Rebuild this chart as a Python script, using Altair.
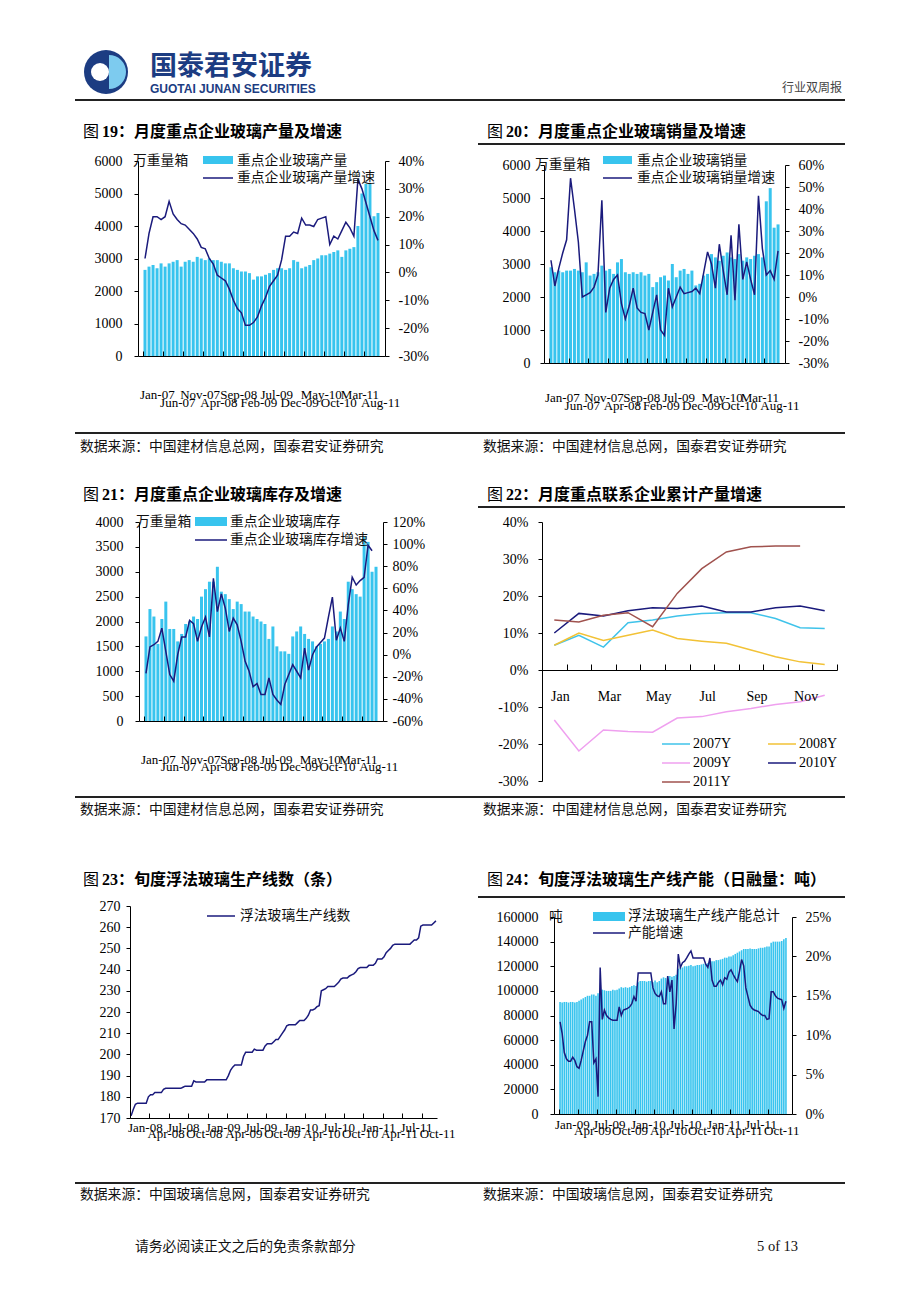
import altair as alt
import pandas as pd

# ------------------------------------------------------------------ data
# Fig 19: monthly production (万重量箱) and growth (%), Jan-07 .. Nov-11
prod_volume = [2650, 2750, 2800, 2700, 2850, 2750, 2850, 2900, 2950, 2750, 2900, 2950,
               2900, 3050, 3000, 2950, 3000, 2950, 2950, 2900, 2850, 2850, 2700, 2650,
               2600, 2600, 2550, 2350, 2450, 2450, 2500, 2550, 2650, 2700, 2700, 2650,
               2700, 2950, 2900, 2700, 2750, 2800, 2950, 3000, 3100, 3100, 3150, 3200,
               3250, 3050, 3250, 3300, 3350, 4000, 5000, 5300, 5300, 4300, 4400]
prod_growth = [5, 14, 20, 20, 19, 20, 25.5, 21, 19, 17.5, 17, 15.5,
               14, 12, 9, 8.5, 5, 3, -1, -2, -3, -6, -10, -13,
               -14.5, -19, -19, -18, -16, -12, -9, -5, -3, -1, 4.5, 13,
               13, 14.5, 14, 19.5, 17, 17, 16.5, 19, 19.5, 20, 10, 13,
               12, 15, 18, 16, 13, 33.5, 30, 25, 20, 15, 11.5]

# Fig 20: monthly sales and growth
sales_volume = [2900, 2750, 2800, 2750, 2800, 2800, 2850, 2800, 2750, 3050, 2650, 2700,
                2750, 2950, 2800, 2850, 2700, 3050, 3150, 2750, 2700, 2750, 2700, 2750,
                2650, 2700, 2300, 2450, 2600, 2650, 2500, 3000, 2600, 2800, 2850, 2700,
                2800, 2350, 2400, 2650, 2700, 3300, 3200, 3100, 3250, 3350, 3200, 3150,
                3300, 3100, 3200, 3150, 3250, 3300, 3200, 4900, 5300, 4100, 4200]
sales_growth = [16.7, 5, 13, 20, 26, 54, 40, 25, 0, 1, 2, 4.5,
                10, 44, -7, 4, 8, 10, -3, -10, -4, 4, -5, -7,
                -7.5, -15, -7, 1, -15, -17.5, 4, -4.5, 0, 4.5, 1.5, 2,
                2.5, 4, 1.5, 11, 20.5, 15, 4, 24, 12, 1, 28, -1.5,
                33, 8, 16, 8, 1, 46, 22, 10, 12, 8, 21]

# Fig 21: monthly inventory and growth
inv_volume = [1700, 2250, 2100, 1550, 2050, 2400, 1850, 1850, 1600, 1750, 1950, 2000,
              2100, 2050, 2500, 2650, 2800, 2800, 3100, 2600, 2550, 2450, 2250, 2400,
              2350, 2200, 2200, 2100, 2050, 2000, 1950, 1650, 1900, 1500, 1400, 1400,
              1350, 1700, 1800, 1900, 1750, 1650, 1600, 1500, 1550, 1600, 1650, 1900,
              1800, 2200, 2050, 2800, 2650, 2550, 2500, 3700, 3600, 3000, 3100]
inv_growth = [-17, 7, 9, 12, 24, 3, -18, -24, 0, 16, 16, 31,
              28, 12, 25, 34, 16, 69, 39, 55, 42, 21, 33, 27,
              12, -6, -15, -29, -26, -36, -36, -21, -36, -41, -45, -27,
              -18, -9, -15, -21, 6, -14, 0, 7, 11, 15, 34, 52,
              13, 24, 12, 45, 70, 63, 67, 70, 99, 94]

month_ticks = [0, 5, 10, 15, 20, 25, 30, 35, 40, 45, 50, 55]
month_labels = ["Jan-07", "Jun-07", "Nov-07", "Apr-08", "Sep-08", "Feb-09",
                "Jul-09", "Dec-09", "May-10", "Oct-10", "Mar-11", "Aug-11"]

# Fig 22: cumulative production growth by year (%)
years = ["2007Y", "2008Y", "2009Y", "2010Y", "2011Y"]
year_colors = ["#3FC3EA", "#F2C236", "#EFA0EF", "#1A1A7C", "#A0524E"]
cum_2007 = [6.7, 9.4, 6.2, 12.8, 13.5, 14.6, 15.3, 15.5, 15.5, 13.9, 11.4, 11.2]
cum_2008 = [6.7, 10.0, 8.0, 9.4, 10.8, 8.5, 7.8, 7.2, 5.4, 3.6, 2.2, 1.5]
cum_2009 = [-13.5, -21.9, -16.2, -16.6, -16.8, -13.0, -12.6, -11.3, -10.4, -9.3, -8.6, -6.8]
cum_2010 = [10.0, 15.3, 14.6, 16.0, 16.8, 16.6, 17.3, 15.7, 15.7, 16.8, 17.3, 16.0]
cum_2011 = [13.5, 13.0, 14.8, 15.5, 11.7, 20.7, 27.4, 31.9, 33.3, 33.5, 33.5]
cum_label_pos = [0.5, 2.5, 4.5, 6.5, 8.5, 10.5]
cum_labels = ["Jan", "Mar", "May", "Jul", "Sep", "Nov"]

# Fig 23: float glass production lines, by 10-day period, Jan-08 ..
lines_count = [171, 174, 176.5, 177, 177, 177, 177, 177, 180, 181,
               181, 182, 182, 182, 182, 183.5, 184, 184, 184, 184,
               184, 184, 184, 184, 184.5, 185, 185, 185, 185, 187.5,
               187, 187, 187, 187, 187, 188, 188, 188, 188, 188,
               188, 188, 188, 188, 188, 190, 192.5, 194, 195, 195,
               195, 195, 199, 201, 201, 201, 201, 202.5, 202, 202,
               202, 202, 204, 205, 205, 205, 206, 207, 207, 208.5,
               210, 211.5, 213.5, 214, 214, 214, 214, 215, 216, 216,
               216, 217, 218.5, 221, 221, 221.5, 222.5, 223, 230, 230.5,
               231, 232, 232, 232, 232, 233, 234, 235.5, 236, 236,
               236, 237, 237.5, 238, 239, 240.5, 241, 241, 241, 241,
               242, 242, 242, 243, 245, 245, 245, 246, 248, 249,
               250, 251.5, 252, 252, 252, 252, 252, 252, 252, 252,
               253, 254, 254, 255, 260.5, 261, 261, 261, 261, 261,
               262, 263]
d08_ticks = [0, 9, 18, 27, 36, 45, 54, 63, 72, 81, 90, 99, 108, 117, 126, 135]
d08_labels = ["Jan-08", "Apr-08", "Jul-08", "Oct-08", "Jan-09", "Apr-09", "Jul-09", "Oct-09",
              "Jan-10", "Apr-10", "Jul-10", "Oct-10", "Jan-11", "Apr-11", "Jul-11", "Oct-11"]

# Fig 24: capacity (吨/日) and growth (%), by 10-day period, Jan-09 ..
capacity = [91000, 90500, 91000, 91000, 90500, 91000, 91000, 90500, 91000,
            92000, 93000, 94000, 95000, 96000, 96000, 97000, 97000, 96000,
            98000, 100000, 101000, 100500, 100000, 100000, 100000, 101000, 100500,
            101000, 102000, 103000, 102500, 103000, 102500, 103000, 104000, 104500,
            104000, 107000, 108000, 108000, 108000, 107500, 108000, 108000, 107000,
            108500, 107000, 108000, 110000, 111000, 110500, 112000, 112000, 111500,
            112000, 113000, 118000, 119000, 119000, 120000, 120000, 120500, 121000,
            120000, 120500, 121000, 121000, 121500, 122000, 122000, 122500, 123000,
            124000, 124000, 125000, 125000, 125500, 126000, 127000, 127000, 128000,
            128000, 129000, 130000, 131000, 132000, 133000, 134000, 134000, 134000,
            134500, 134000, 134000, 134000, 134500, 135000, 135000, 135500, 136000,
            136000, 139000, 140000, 140000, 140000, 140000, 140500, 142000, 143000]
capacity_growth = [11.7, 10.2, 7.8, 7, 6.7, 6.7, 7.2, 6.8, 6,
                   5.8, 6.8, 8, 9.2, 10, 11.7, 11.7, 6.5, 7,
                   2.2, 18.6, 12, 13.2, 12.5, 12.2, 12, 11.9, 11.9,
                   11.9, 13.6, 12.5, 13.2, 13.3, 13.4, 13.6, 14, 14.9,
                   14.3, 17.9, 17.9, 17.9, 17.9, 17.9, 17.9, 17.9, 16,
                   15.3, 15, 14.9, 15.5, 14, 14, 17.5, 15.5, 17,
                   10.8, 14, 20.3, 18.6, 19.2, 19.4, 19.8, 20.3, 20.7,
                   19.8, 19.8, 19.8, 19.8, 19.8, 19.8, 19, 18.6, 19.8,
                   17, 16.2, 16.2, 16.7, 17, 16.4, 17.3, 17.1, 18,
                   18.3, 17.7, 17.2, 16.8, 18.1, 19.6, 18.8, 16, 14.9,
                   13.8, 13.4, 13.2, 13.1, 13, 12.7, 12.5, 12.5, 12,
                   12.1, 15.5, 15.5, 15, 14.7, 14.6, 14.5, 13.4, 14.3]
d09_ticks = [0, 9, 18, 27, 36, 45, 54, 63, 72, 81, 90, 99]
d09_labels = ["Jan-09", "Apr-09", "Jul-09", "Oct-09", "Jan-10", "Apr-10",
              "Jul-10", "Oct-10", "Jan-11", "Apr-11", "Jul-11", "Oct-11"]

# texts
fig_nums = ["19：月度重点企业玻璃产量及增速", "20：月度重点企业玻璃销量及增速",
            "21：月度重点企业玻璃库存及增速", "22：月度重点联系企业累计产量增速",
            "23：旬度浮法玻璃生产线数（条）", "24：旬度浮法玻璃生产线产能（日融量：吨）"]
src_a = "数据来源：中国建材信息总网，国泰君安证券研究"
src_b = "数据来源：中国玻璃信息网，国泰君安证券研究"
names19 = ["重点企业玻璃产量", "重点企业玻璃产量增速"]
names20 = ["重点企业玻璃销量", "重点企业玻璃销量增速"]
names21 = ["重点企业玻璃库存", "重点企业玻璃库存增速"]
name23 = "浮法玻璃生产线数"
names24 = ["浮法玻璃生产线产能总计", "产能增速"]
unit_box = "万重量箱"
unit_ton = "吨"

# ------------------------------------------------------------------ style / layout
BAR = "#38C4EE"
NAVY = "#1A1A7C"
SER = "Liberation Serif"
MIX = "Liberation Serif, Noto Sans CJK SC"
CJK = "Noto Sans CJK SC"
XAX = dict(domainColor="#000", tickColor="#000", grid=False, title=None,
           domainWidth=1, tickWidth=1, zindex=1)
YAX = dict(labelFont=SER, labelFontSize=14, labelColor="#000", domainColor="#000",
           tickColor="#000", tickSize=4, grid=False, title=None, labelOverlap=False,
           domainWidth=1, tickWidth=1, zindex=1)

CELL_X = [8, 464]
CELL_W = [456, 406]
CELL_Y = [8, 470, 842]
CELL_H = [462, 372, 428]
ONE = pd.DataFrame({"k": [0]})


def tools(vx, vy):
    def T(s, px, py, size=13.8, weight="normal", color="#111", font=MIX, align="left"):
        return alt.Chart(ONE).mark_text(text=s, align=align, baseline="middle", fontSize=size,
                                        fontWeight=weight, font=font, color=color).encode(
            x=alt.value(px - vx), y=alt.value(py - vy))

    def H(x1, x2, py, color="#222", w=1.5):
        return alt.Chart(ONE).mark_rule(color=color, strokeWidth=w).encode(
            x=alt.value(x1 - vx), x2=alt.value(x2 - vx), y=alt.value(py - vy))

    def R(x1, x2, y1, y2, color):
        return alt.Chart(ONE).mark_rect(color=color).encode(
            x=alt.value(x1 - vx), x2=alt.value(x2 - vx), y=alt.value(y1 - vy), y2=alt.value(y2 - vy))

    def A(px, py, r, t1, t2, color):
        return alt.Chart(ONE).mark_arc(radius=r, radius2=0, theta=t1, theta2=t2, color=color).encode(
            x=alt.value(px - vx), y=alt.value(py - vy))
    return T, H, R, A


def cell_layers(col, row):
    vx, vy = CELL_X[col], CELL_Y[row]
    T, H, R, A = tools(vx, vy)
    L = [R(vx, vx + CELL_W[col], vy, vy + CELL_H[row], "white")]
    title_y = [132, 495, 880][row]
    src_y = [447, 810, 1195][row]
    rule_y = [433, 797, 1183][row]
    idx = row * 2 + col
    if col == 0:
        L += [T("图", 83, title_y, size=16, font=CJK, color="#000"),
              T(fig_nums[idx], 102, title_y, size=16, weight="bold", color="#000"),
              H(75, 464, rule_y, w=2),
              T(src_a if row < 2 else src_b, 80, src_y)]
    else:
        L += [T("图", 487, title_y, size=16, font=CJK, color="#000"),
              T(fig_nums[idx], 506, title_y, size=16, weight="bold", color="#000"),
              H(478, 845, [144, 507, 897][row], w=2),
              H(464, 845, rule_y, w=2),
              T(src_a if row < 2 else src_b, 483, src_y)]
    if row == 0 and col == 0:
        L += [H(75, 464, 100, w=2),
              A(106, 72, 22, 0, 6.2832, "#1C3C82"),
              A(109, 72, 17, 0, 3.1416, "#7DCBEF"),
              A(100, 72, 9, 0, 6.2832, "white"),
              T("国泰君安证券", 150, 67, size=27, weight="bold", color="#1C3C82", font=CJK),
              T("GUOTAI JUNAN SECURITIES", 150, 89, size=12, weight="bold", color="#1C3C82",
                font="Liberation Sans")]
    if row == 0 and col == 1:
        L += [T("行业双周报", 842, 88, size=12, color="#444", align="right", font=CJK),
              H(464, 845, 100, w=2)]
    if row == 2 and col == 0:
        L += [T("请务必阅读正文之后的免责条款部分", 135, 1247)]
    if row == 2 and col == 1:
        L += [T("5 of 13", 757, 1247, size=14.5, font=SER)]
    return L


def frame(col, row, x0, x1, y0, y1):
    """plot rectangle given in page pixels -> ranges inside the cell view"""
    vx, vy = CELL_X[col], CELL_Y[row]
    return dict(xr=[x0 - vx, x1 - vx], yr=[y1 - vy, y0 - vy],
                left=x0 - vx, right=CELL_W[col] - (x1 - vx), bottom=y1 - vy, vx=vx, vy=vy)


def xlabel_layers(ticks, labels, xs, xax, dx, yu, yl):
    out = []
    for k, yy in ((0, yu), (1, yl)):
        df = pd.DataFrame({"t": ticks[k::2], "lab": labels[k::2]})
        out.append(alt.Chart(df).mark_text(align="left", baseline="middle", font=SER, fontSize=13,
                                           dx=dx, color="#000").encode(
            x=alt.X("t:Q", scale=xs, axis=xax), y=alt.value(yy), text="lab:N"))
    return out


def dual_panel(col, row, fr, bars, growth, ldom, lvals, lpad, rdom, rvals, rpad,
               ticks, labels, lab_dx, y_up, y_lo, bar_size, legend):
    n = len(bars)
    xs = alt.Scale(domain=[0, n], range=fr["xr"], nice=False, zero=False)
    xax = alt.Axis(orient="top", offset=-fr["bottom"], labels=False, values=ticks, tickSize=5, **XAX)
    dfb = pd.DataFrame({"t": [i + 0.5 for i in range(n)], "v": bars})
    dfl = pd.DataFrame({"t": [i + 0.5 for i in range(len(growth))], "g": growth})
    bar = alt.Chart(dfb).mark_bar(size=bar_size, color=BAR).encode(
        x=alt.X("t:Q", scale=xs, axis=xax),
        y=alt.Y("v:Q", scale=alt.Scale(domain=ldom, range=fr["yr"], nice=False, zero=True),
                axis=alt.Axis(orient="left", offset=-fr["left"], values=lvals, labelPadding=lpad,
                              format="d", **YAX)))
    line = alt.Chart(dfl).mark_line(color=NAVY, strokeWidth=1.5).encode(
        x=alt.X("t:Q", scale=xs, axis=xax),
        y=alt.Y("g:Q", scale=alt.Scale(domain=rdom, range=fr["yr"], nice=False, zero=False),
                axis=alt.Axis(orient="right", offset=-fr["right"], values=rvals, labelPadding=rpad,
                              labelExpr="datum.value + '%'", **YAX)))
    labs = xlabel_layers(ticks, labels, xs, xax, lab_dx, y_up - fr["vy"], y_lo - fr["vy"])
    layers = cell_layers(col, row) + [bar, line] + labs + legend
    return alt.layer(*layers).properties(width=CELL_W[col], height=CELL_H[row]).resolve_scale(
        y="independent")


# ---- Fig 19
fr = frame(0, 0, 138, 385, 161, 356)
T, H, R, A = tools(fr["vx"], fr["vy"])
leg19 = [T(unit_box, 133, 161), R(203, 233, 156, 164, BAR), T(names19[0], 237, 160.5),
         H(203, 233, 178, NAVY, 1.5), T(names19[1], 237, 178)]
p19 = dual_panel(0, 0, fr, prod_volume, prod_growth,
                 [0, 6000], [0, 1000, 2000, 3000, 4000, 5000, 6000], 12,
                 [-30, 40], [-30, -20, -10, 0, 10, 20, 30, 40], 9,
                 month_ticks, month_labels, -3, 395, 403, 3, leg19)

# ---- Fig 20
fr = frame(1, 0, 544, 785, 165, 363)
T, H, R, A = tools(fr["vx"], fr["vy"])
leg20 = [T(unit_box, 535, 165), R(603, 632, 156, 164, BAR), T(names20[0], 637, 160.5),
         H(603, 632, 178, NAVY, 1.5), T(names20[1], 637, 178)]
p20 = dual_panel(1, 0, fr, sales_volume, sales_growth,
                 [0, 6000], [0, 1000, 2000, 3000, 4000, 5000, 6000], 10,
                 [-30, 60], [-30, -20, -10, 0, 10, 20, 30, 40, 50, 60], 9,
                 month_ticks, month_labels, -4, 398, 406, 3, leg20)

# ---- Fig 21
fr = frame(0, 1, 139, 383, 522, 721)
T, H, R, A = tools(fr["vx"], fr["vy"])
leg21 = [T(unit_box, 136, 522), R(195, 227, 517, 526, BAR), T(names21[0], 230, 521.5),
         H(195, 227, 540, NAVY, 1.5), T(names21[1], 230, 540)]
p21 = dual_panel(0, 1, fr, inv_volume, inv_growth,
                 [0, 4000], [0, 500, 1000, 1500, 2000, 2500, 3000, 3500, 4000], 12,
                 [-60, 120], [-60, -40, -20, 0, 20, 40, 60, 80, 100, 120], 5,
                 month_ticks, month_labels, -3, 760, 767, 3, leg21)

# ---- Fig 22
fr = frame(1, 1, 542, 837, 522, 781)
T, H, R, A = tools(fr["vx"], fr["vy"])
zero_y = 522 + (781 - 522) * 4 / 7
xs22 = alt.Scale(domain=[0, 12], range=fr["xr"], nice=False, zero=False)
xax22 = alt.Axis(orient="top", offset=-(zero_y - fr["vy"]), labels=False,
                 values=[1, 2, 3, 4, 5, 6, 7, 8, 9, 10, 11, 12], tickSize=6, **XAX)
rows22 = []
for yr, vals in zip(years, [cum_2007, cum_2008, cum_2009, cum_2010, cum_2011]):
    for i, v in enumerate(vals):
        rows22.append({"year": yr, "t": i + 0.5, "v": v})
df22 = pd.DataFrame(rows22)
lines22 = alt.Chart(df22).mark_line(strokeWidth=1.5).encode(
    x=alt.X("t:Q", scale=xs22, axis=xax22),
    y=alt.Y("v:Q", scale=alt.Scale(domain=[-30, 40], range=fr["yr"], nice=False, zero=False),
            axis=alt.Axis(orient="left", offset=-fr["left"], values=[-30, -20, -10, 0, 10, 20, 30, 40],
                          labelPadding=10, labelExpr="datum.value + '%'", **YAX)),
    color=alt.Color("year:N", scale=alt.Scale(domain=years, range=year_colors), legend=None))
mlab22 = alt.Chart(pd.DataFrame({"t": cum_label_pos, "lab": cum_labels})).mark_text(
    align="center", baseline="middle", font=SER, fontSize=14, dx=6, color="#000").encode(
    x=alt.X("t:Q", scale=xs22, axis=xax22), y=alt.value(697 - fr["vy"]), text="lab:N")
leg22 = []
for j, yr in enumerate(years):
    sx = 662 + (j % 2) * 106
    sy = 744 + (j // 2) * 19
    leg22 += [H(sx, sx + 28, sy, year_colors[j], 1.5),
              T(yr, sx + 31, sy, size=14, font=SER, color="#000")]
p22 = alt.layer(*(cell_layers(1, 1) + [lines22, mlab22] + leg22)).properties(
    width=CELL_W[1], height=CELL_H[1])

# ---- Fig 23
fr = frame(0, 2, 130, 437, 906, 1118)
T, H, R, A = tools(fr["vx"], fr["vy"])
n23 = len(lines_count)
xs23 = alt.Scale(domain=[0, n23], range=fr["xr"], nice=False, zero=False)
xax23 = alt.Axis(orient="top", offset=-fr["bottom"], labels=False, values=d08_ticks, tickSize=5, **XAX)
df23 = pd.DataFrame({"t": [i + 0.5 for i in range(n23)], "v": lines_count})
line23 = alt.Chart(df23).mark_line(color=NAVY, strokeWidth=1.5).encode(
    x=alt.X("t:Q", scale=xs23, axis=xax23),
    y=alt.Y("v:Q", scale=alt.Scale(domain=[170, 270], range=fr["yr"], nice=False, zero=False),
            axis=alt.Axis(orient="left", offset=-fr["left"],
                          values=[170, 180, 190, 200, 210, 220, 230, 240, 250, 260, 270],
                          labelPadding=6, format="d", **YAX)))
leg23 = [H(207, 235, 916, NAVY, 1.5), T(name23, 240, 916)]
p23 = alt.layer(*(cell_layers(0, 2) + [line23]
                  + xlabel_layers(d08_ticks, d08_labels, xs23, xax23, -2, 1128 - fr["vy"], 1134 - fr["vy"])
                  + leg23)).properties(width=CELL_W[0], height=CELL_H[2])

# ---- Fig 24
fr = frame(1, 2, 554, 792, 917, 1114)
T, H, R, A = tools(fr["vx"], fr["vy"])
leg24 = [T(unit_ton, 549, 917), R(593, 625, 912, 921, BAR), T(names24[0], 628, 916),
         H(593, 625, 933, NAVY, 1.5), T(names24[1], 628, 933)]
p24 = dual_panel(1, 2, fr, capacity, capacity_growth,
                 [0, 160000], [0, 20000, 40000, 60000, 80000, 100000, 120000, 140000, 160000], 12,
                 [0, 25], [0, 5, 10, 15, 20, 25], 9,
                 d09_ticks, d09_labels, -4, 1125, 1131, 1.6, leg24)

chart = alt.concat(p19, p20, p21, p22, p23, p24, columns=2, spacing=0, align="each",
                   bounds="flush").properties(padding=0).configure_view(stroke=None)

chart.save("out.html", embed_options={"renderer": "svg", "actions": False})
